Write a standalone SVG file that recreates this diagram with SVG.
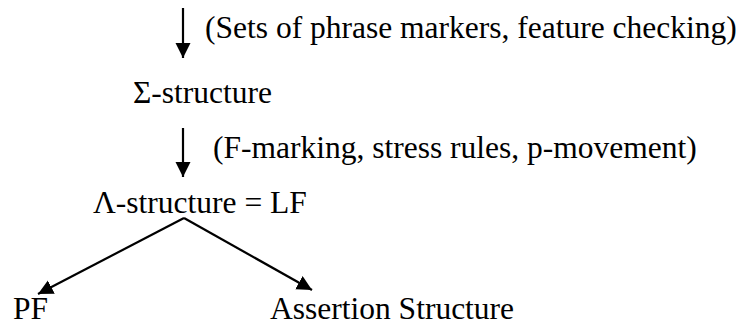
<svg xmlns="http://www.w3.org/2000/svg" width="749" height="327" viewBox="0 0 749 327">
  <style>
    text { font-family: 'Liberation Serif', 'Times New Roman', serif; font-size: 31.5px; fill: #000; }
    .conn { stroke: #000; stroke-width: 2.2; fill: none; marker-end: url(#head); }
  </style>
  <defs>
    <marker id="head" markerUnits="userSpaceOnUse" markerWidth="16" markerHeight="16" refX="15" refY="7.5" orient="auto">
      <path d="M0,0 L15,7.5 L0,15 Z" fill="#000"/>
    </marker>
  </defs>

  <!-- derivation steps -->
  <g id="sigma">
    <text x="133" y="103">Σ-structure</text>
  </g>
  <g id="lambda">
    <text x="93" y="213">Λ-structure = LF</text>
  </g>
  <g id="pf">
    <text x="13" y="319">PF</text>
  </g>
  <g id="assertion">
    <text x="270" y="319">Assertion Structure</text>
  </g>

  <!-- step annotations -->
  <g id="step1-label">
    <text x="205" y="38">(Sets of phrase markers, feature checking)</text>
  </g>
  <g id="step2-label">
    <text x="213" y="158">(F-marking, stress rules, p-movement)</text>
  </g>

  <!-- connectors -->
  <g id="connectors">
    <line class="conn" x1="183" y1="8" x2="183" y2="58"/>
    <line class="conn" x1="183" y1="128" x2="183" y2="177"/>
    <line class="conn" x1="184" y1="218" x2="38" y2="294"/>
    <line class="conn" x1="184" y1="218" x2="312" y2="290"/>
  </g>
</svg>
